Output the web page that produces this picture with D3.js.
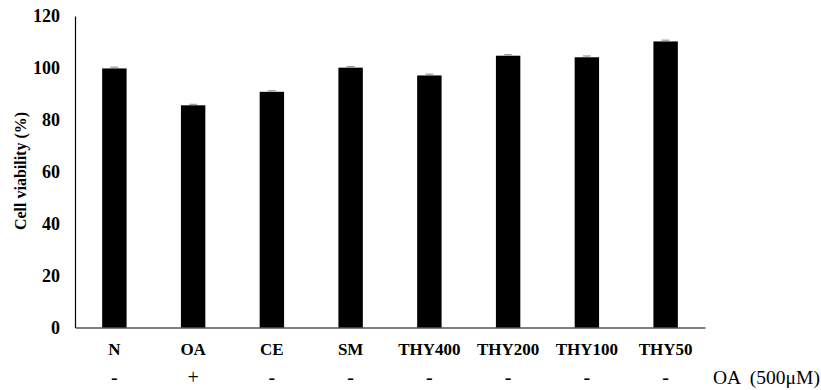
<!DOCTYPE html>
<html>
<head>
<meta charset="utf-8">
<script src="https://cdn.jsdelivr.net/npm/d3@7/dist/d3.min.js"></script>
<style>
body { margin: 0; background: #fff; }
text { font-family: "Liberation Serif", "Times New Roman", serif; }
</style>
</head>
<body>
<div id="vis"></div>
<script>
const width = 821;
const height = 390;

const groups = ["N", "OA", "CE", "SM", "THY400", "THY200", "THY100", "THY50"];
const viability = [99.8, 85.6, 90.8, 100.1, 97.1, 104.7, 104.1, 110.2];
const errors = [0.5, 0.4, 0.4, 0.4, 0.5, 0.4, 0.5, 0.5];
const oaSigns = ["-", "+", "-", "-", "-", "-", "-", "-"];
const yTicks = [0, 20, 40, 60, 80, 100, 120];

const plotLeft = 75, plotRight = 705, plotTop = 16, plotBase = 327.5;

var svg = d3.select("#vis")
  .append("svg")
  .attr("width", width)
  .attr("height", height);

var x = d3.scaleBand()
  .domain(groups)
  .range([plotLeft, plotRight])
  .paddingInner(0.69)
  .paddingOuter(0.345);

var y = d3.scaleLinear()
  .domain([0, 120])
  .range([plotBase, plotTop]);

// bars
svg.append("g")
  .selectAll("rect")
  .data(groups)
  .enter()
  .append("rect")
  .attr("x", d => x(d))
  .attr("y", (d, i) => y(viability[i]))
  .attr("width", x.bandwidth())
  .attr("height", (d, i) => plotBase - y(viability[i]))
  .attr("fill", "#000");

// tiny error bars
var err = svg.append("g").attr("stroke", "#888").attr("stroke-width", 1);
groups.forEach(function(d, i) {
  var cx = x(d) + x.bandwidth() / 2;
  err.append("line")
    .attr("x1", cx).attr("x2", cx)
    .attr("y1", y(viability[i] + errors[i])).attr("y2", y(viability[i]));
  err.append("line")
    .attr("x1", cx - 4).attr("x2", cx + 4)
    .attr("y1", y(viability[i] + errors[i])).attr("y2", y(viability[i] + errors[i]));
});

// axes
var yAxis = d3.axisLeft(y).tickValues(yTicks).tickSize(0).tickPadding(15);
var gy = svg.append("g")
  .attr("transform", "translate(" + plotLeft + ",0)")
  .call(yAxis);
gy.select(".domain").attr("stroke", "#000").attr("stroke-width", 1.2);
gy.selectAll("text")
  .style("font-size", "18px")
  .style("font-weight", "bold")
  .attr("fill", "#000");

var xAxis = d3.axisBottom(x).tickSize(0).tickPadding(15);
var gx = svg.append("g")
  .attr("transform", "translate(0," + plotBase + ")")
  .call(xAxis);
gx.select(".domain").attr("stroke", "#000").attr("stroke-width", 1.2);
gx.selectAll("text")
  .style("font-size", "17px")
  .style("font-weight", "bold")
  .attr("fill", "#000");

// OA row
svg.append("g")
  .selectAll("text")
  .data(groups)
  .enter()
  .append("text")
  .attr("x", d => x(d) + x.bandwidth() / 2)
  .attr("y", 384)
  .attr("text-anchor", "middle")
  .style("font-size", "20px")
  .text((d, i) => oaSigns[i]);

svg.append("text")
  .attr("x", 713)
  .attr("y", 384)
  .style("font-size", "19.5px")
  .style("white-space", "pre")
  .text("OA  (500μM)");

// y title
svg.append("text")
  .attr("transform", "translate(26,171) rotate(-90)")
  .attr("text-anchor", "middle")
  .style("font-size", "16px")
  .style("font-weight", "bold")
  .text("Cell viability (%)");
</script>
</body>
</html>
